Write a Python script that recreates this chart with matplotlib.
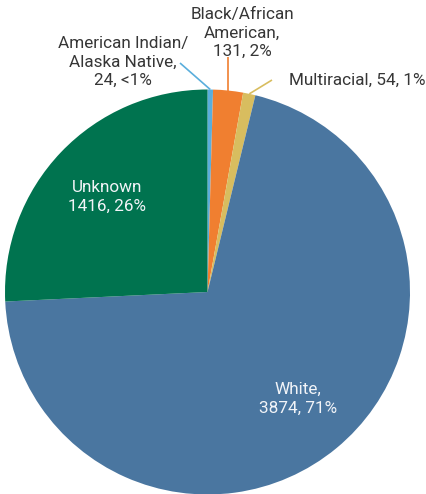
import numpy as np
import matplotlib
matplotlib.use("Agg")
import matplotlib.pyplot as plt

categories = ["American Indian/\nAlaska Native", "Black/African\nAmerican", "Multiracial", "White", "Unknown"]
counts = [24, 131, 54, 3874, 1416]
pct_labels = ["<1%", "2%", "1%", "71%", "26%"]
colors = ["#5AAEDC", "#F07F30", "#D8BD5F", "#4A76A0", "#00734F"]

W, H = 427, 494
CX, CY, R = 207.5, 292.0, 202.5  # pie placement in pixels

def px(x, y):
    return ((x - CX) / R, (CY - y) / R)

fig = plt.figure(figsize=(W / 100, H / 100), dpi=100)
ax = fig.add_axes([0, 0, 1, 1])
ax.axis("off")

wedges, _ = ax.pie(counts, colors=colors, startangle=90, counterclock=False,
                   radius=1.0, center=(0, 0), wedgeprops=dict(linewidth=0))
ax.set_aspect("auto")
ax.set_xlim(px(0, 0)[0], px(W, 0)[0])
ax.set_ylim(px(0, H)[1], px(0, 0)[1])

font = "Roboto"
dark = "#363636"
fs = 12.3
ls = 1.3

outside = {
    0: dict(pos=px(123, 62), line_end=px(180, 63)),
    1: dict(pos=px(242, 33), line_end=px(229, 57)),
    2: dict(pos=px(357, 80), line_end=px(272, 80)),
}
total = sum(counts)
cum = 0
mids = []
for c in counts:
    mids.append(90 - 360 * (cum + c / 2) / total)
    cum += c

for i, o in outside.items():
    if i == 2:
        txt = f"{categories[i]}, {counts[i]}, {pct_labels[i]}"
    else:
        txt = f"{categories[i]},\n{counts[i]}, {pct_labels[i]}"
    ax.text(o["pos"][0], o["pos"][1], txt, ha="center", va="center",
            fontsize=fs, family=font, color=dark, linespacing=ls)
    a = np.deg2rad(mids[i])
    ex, ey = np.cos(a), np.sin(a)
    if i == 1:
        lx, ly = ex, o["line_end"][1]
    else:
        lx, ly = o["line_end"]
    ax.plot([ex, lx], [ey, ly], color=colors[i], lw=1.2, solid_capstyle="butt")

inside = {3: px(298, 399), 4: px(107, 197)}
for i, p in inside.items():
    if i == 3:
        txt = f"{categories[i]},\n{counts[i]}, {pct_labels[i]}"
    else:
        txt = f"{categories[i]}\n{counts[i]}, {pct_labels[i]}"
    ax.text(p[0], p[1], txt, ha="center", va="center", fontsize=fs,
            family=font, color="#F2F4F8", linespacing=ls)

fig.savefig("out.png", dpi=100)
